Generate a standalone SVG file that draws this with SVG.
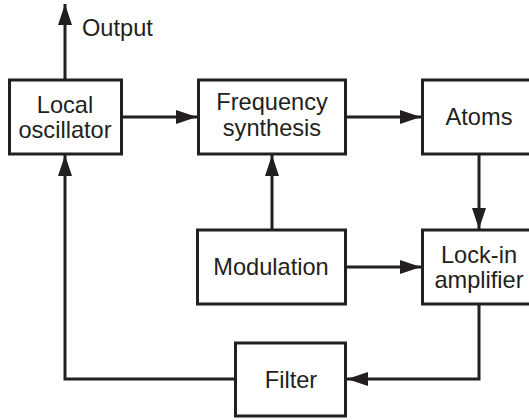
<svg xmlns="http://www.w3.org/2000/svg" width="529" height="420" viewBox="0 0 529 420">
  <defs>
    <marker id="arrow" markerUnits="userSpaceOnUse" markerWidth="22" markerHeight="14" refX="21" refY="7" orient="auto">
      <path d="M0,0 L21,7 L0,14 z" fill="#231f20"/>
    </marker>
    <style>
      .box { fill: #fff; stroke: #231f20; stroke-width: 3; }
      .lbl { font-family: "Liberation Sans", Arial, sans-serif; font-size: 23.6px; fill: #231f20; text-anchor: middle; }
      .wire { fill: none; stroke: #231f20; stroke-width: 3; }
    </style>
  </defs>
  <rect width="529" height="420" fill="#fff"/>

  <g id="connectors">
    <path class="wire" d="M65,80 V4" marker-end="url(#arrow)"/>
    <path class="wire" d="M121,117 H197" marker-end="url(#arrow)"/>
    <path class="wire" d="M346,117 H421" marker-end="url(#arrow)"/>
    <path class="wire" d="M479,154 V229" marker-end="url(#arrow)"/>
    <path class="wire" d="M272,230 V155" marker-end="url(#arrow)"/>
    <path class="wire" d="M346,267 H421" marker-end="url(#arrow)"/>
    <path class="wire" d="M479,304 V379 H347" marker-end="url(#arrow)"/>
    <path class="wire" d="M235,379 H65 V155" marker-end="url(#arrow)"/>
  </g>

  <text class="lbl" x="82" y="36" style="text-anchor:start">Output</text>

  <g id="local-oscillator">
    <rect class="box" x="9.5" y="80" width="112" height="74"/>
    <text class="lbl" x="65" y="113">Local</text>
    <text class="lbl" x="65" y="138">oscillator</text>
  </g>

  <g id="frequency-synthesis">
    <rect class="box" x="198.5" y="80" width="147" height="74"/>
    <text class="lbl" x="272" y="110">Frequency</text>
    <text class="lbl" x="272" y="136">synthesis</text>
  </g>

  <g id="atoms">
    <rect class="box" x="422.5" y="80" width="120" height="74"/>
    <text class="lbl" x="479" y="125">Atoms</text>
  </g>

  <g id="modulation">
    <rect class="box" x="197.5" y="230" width="148" height="74"/>
    <text class="lbl" x="271" y="275">Modulation</text>
  </g>

  <g id="lock-in-amplifier">
    <rect class="box" x="422.5" y="230" width="120" height="74"/>
    <text class="lbl" x="479" y="263">Lock-in</text>
    <text class="lbl" x="479" y="288">amplifier</text>
  </g>

  <g id="filter">
    <rect class="box" x="235.5" y="343" width="110" height="73"/>
    <text class="lbl" x="291" y="388">Filter</text>
  </g>
</svg>
